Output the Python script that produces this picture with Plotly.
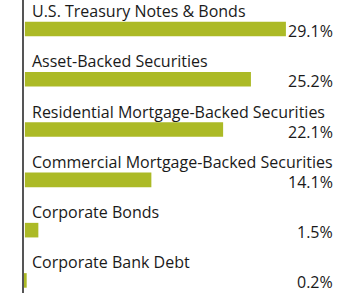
import plotly.graph_objects as go

categories = ["U.S. Treasury Notes & Bonds", "Asset-Backed Securities",
              "Residential Mortgage-Backed Securities", "Commercial Mortgage-Backed Securities",
              "Corporate Bonds", "Corporate Bank Debt"]
values = [29.1, 25.2, 22.1, 14.1, 1.5, 0.2]
value_labels = ["29.1%", "25.2%", "22.1%", "14.1%", "1.5%", "0.2%"]

BAR = "#acba26"
FONT = "Open Sans, sans-serif"

fig = go.Figure(go.Bar(
    y=categories, x=values, orientation="h",
    marker=dict(color=BAR, line=dict(width=0)),
    width=0.29, hoverinfo="skip",
))

ann = []
for c, lab in zip(categories, value_labels):
    ann.append(dict(x=0, y=c, xref="x", yref="y", text=c, showarrow=False,
                    xanchor="left", yanchor="middle", xshift=5, yshift=18,
                    font=dict(family=FONT, size=16, color="#1a1a1a")))
    ann.append(dict(x=1, y=c, xref="paper", yref="y", text=lab, showarrow=False,
                    xanchor="right", yanchor="middle", xshift=-25, yshift=-2,
                    font=dict(family=FONT, size=16, color="#1a1a1a")))

fig.update_layout(
    width=360, height=296,
    margin=dict(l=24, r=0, t=0, b=3),
    paper_bgcolor="white", plot_bgcolor="white",
    showlegend=False,
    annotations=ann,
    xaxis=dict(range=[-0.1, 37.36], visible=False, fixedrange=True),
    yaxis=dict(categoryorder="array", categoryarray=categories,
               range=[5.25, -0.577], showticklabels=False, ticks="",
               showgrid=False, zeroline=False, showline=True,
               linecolor="#555555", linewidth=1.5, fixedrange=True),
)

fig.write_html("out.html", config={"displayModeBar": False})
